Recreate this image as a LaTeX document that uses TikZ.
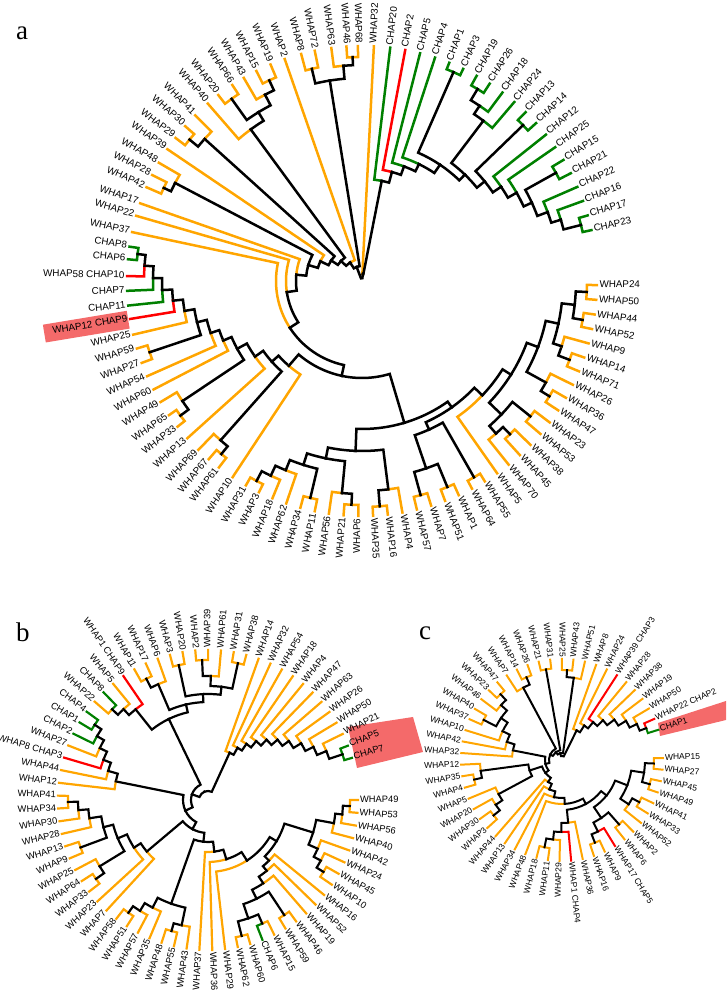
\documentclass[tikz,border=0pt]{standalone}
\usepackage{fontspec}
\newfontfamily\labf{Liberation Sans}
\newfontfamily\panf{Liberation Serif}
\definecolor{cOr}{RGB}{255,165,0}
\definecolor{cGr}{RGB}{0,128,0}
\definecolor{cRd}{RGB}{255,0,0}
\definecolor{cBk}{RGB}{0,0,0}
\definecolor{cHl}{RGB}{244,106,106}
\newcommand\TipR{237}
\newcommand\LabGap{2}
\newcommand\Lf[4]{%
  \expandafter\xdef\csname TA:#1\endcsname{#2}%
  \expandafter\xdef\csname TR:#1\endcsname{\TipR}%
  \expandafter\xdef\csname TC:#1\endcsname{#3}%
  \pgfmathsetmacro\lfang{mod(#2+360,360)}%
  \pgfmathsetmacro\lfrad{\TipR+\LabGap}%
  \ifdim\lfang pt>90pt\relax
    \ifdim\lfang pt<270pt\relax
      \node[lab,anchor=mid east,rotate=\lfang-180] (#1) at (\lfang:\lfrad) {#4};%
    \else
      \node[lab,anchor=mid west,rotate=\lfang] (#1) at (\lfang:\lfrad) {#4};%
    \fi
  \else
    \node[lab,anchor=mid west,rotate=\lfang] (#1) at (\lfang:\lfrad) {#4};%
  \fi
}
\newcommand\Br[2]{%
  \edef\bpA{\csname TA:#1\endcsname}%
  \edef\bpR{\csname TR:#1\endcsname}%
  \edef\bcA{\csname TA:#2\endcsname}%
  \edef\bcR{\csname TR:#2\endcsname}%
  \edef\bcC{\csname TC:#2\endcsname}%
  \draw[br,draw=\bcC] (\bpA:\bpR) arc[start angle=\bpA,end angle=\bcA,radius=\bpR pt] -- (\bcA:\bcR);%
}
\newcommand\Nd[4]{%
  \pgfmathsetmacro\ndang{(\csname TA:#2\endcsname+\csname TA:#3\endcsname)/2}%
  \expandafter\xdef\csname TA:#1\endcsname{\ndang}%
  \expandafter\xdef\csname TR:#1\endcsname{#4}%
  \expandafter\xdef\csname TC:#1\endcsname{cBk}%
  \Br{#1}{#2}\Br{#1}{#3}%
}
\begin{document}
\begin{tikzpicture}[x=1pt,y=1pt]
\useasboundingbox (0,0) rectangle (726,992);
% highlight boxes
\begin{scope}[shift={(362,711)},rotate=189.4]
\fill[cHl] (237,-9) rectangle (322,9);
\end{scope}
\fill[cHl] (348,265) -- (413,275) -- (423,240) -- (357,224) -- cycle;
\fill[cHl] (658,269) -- (726,291) -- (726,272) -- (660,256) -- cycle;
% panel letters
\node[font=\panf\fontsize{27}{27}\selectfont] (pa) at (22,959) {a};
\node[font=\panf\fontsize{27}{27}\selectfont] (pb) at (23,360) {b};
\node[font=\panf\fontsize{27}{27}\selectfont] (pc) at (425,359) {c};
%%%%%%%%%%%%%%%% TREE A
\begin{scope}[shift={(362,711)},lab/.style={font=\labf\fontsize{9.8}{11}\selectfont,inner sep=0pt},br/.style={line width=2.5pt,line cap=rect}]
\renewcommand\TipR{235}\renewcommand\LabGap{2.5}
\Lf{aC20}{83.1}{cGr}{CHAP20}
\Lf{aC2}{79.4}{cRd}{CHAP2}
\Lf{aC5}{75.7}{cGr}{CHAP5}
\Lf{aC4}{71.9}{cGr}{CHAP4}
\Lf{aC1}{68.2}{cGr}{CHAP1}
\Lf{aC3}{64.5}{cGr}{CHAP3}
\Lf{aC19}{60.8}{cGr}{CHAP19}
\Lf{aC26}{57.1}{cGr}{CHAP26}
\Lf{aC18}{53.3}{cGr}{CHAP18}
\Lf{aC24}{49.6}{cGr}{CHAP24}
\Lf{aC13}{45.9}{cGr}{CHAP13}
\Lf{aC14}{42.2}{cGr}{CHAP14}
\Lf{aC12}{38.5}{cGr}{CHAP12}
\Lf{aC25}{34.7}{cGr}{CHAP25}
\Lf{aC15}{31.0}{cGr}{CHAP15}
\Lf{aC21}{27.3}{cGr}{CHAP21}
\Lf{aC22}{23.6}{cGr}{CHAP22}
\Lf{aC16}{19.9}{cGr}{CHAP16}
\Lf{aC17}{16.2}{cGr}{CHAP17}
\Lf{aC23}{12.5}{cGr}{CHAP23}
\Lf{aW32}{87.1}{cOr}{WHAP32}
\Lf{aW68}{91.0}{cOr}{WHAP68}
\Lf{aW46}{93.8}{cOr}{WHAP46}
\Lf{aW63}{97.5}{cOr}{WHAP63}
\Lf{aW72}{101.6}{cOr}{WHAP72}
\Lf{aW8}{105.0}{cOr}{WHAP8}
\Lf{aW2}{109.2}{cOr}{WHAP2}
\Lf{aW19}{112.9}{cOr}{WHAP19}
\Lf{aW15}{116.7}{cOr}{WHAP15}
\Lf{aW43}{120.2}{cOr}{WHAP43}
\Lf{aW66}{123.5}{cOr}{WHAP66}
\Lf{aW20}{127.7}{cOr}{WHAP20}
\Lf{aW40}{131.0}{cOr}{WHAP40}
\Lf{aW41}{135.2}{cOr}{WHAP41}
\Lf{aW30}{138.8}{cOr}{WHAP30}
\Lf{aW29}{142.5}{cOr}{WHAP29}
\Lf{aW39}{145.9}{cOr}{WHAP39}
\Lf{aW48}{149.8}{cOr}{WHAP48}
\Lf{aW28}{153.2}{cOr}{WHAP28}
\Lf{aW42}{156.5}{cOr}{WHAP42}
\Lf{aW17}{160.7}{cOr}{WHAP17}
\Lf{aW22}{163.9}{cOr}{WHAP22}
\Lf{aW37}{168.0}{cOr}{WHAP37}
\Lf{aC8}{171.6}{cGr}{CHAP8}
\Lf{aC6}{174.7}{cGr}{CHAP6}
\Lf{aC10}{178.8}{cRd}{WHAP58 CHAP10}
\Lf{aC7}{182.4}{cGr}{CHAP7}
\Lf{aC11}{186.0}{cGr}{CHAP11}
\Lf{aC9}{189.3}{cRd}{WHAP12 CHAP9}
\Lf{aW25}{193.2}{cOr}{WHAP25}
\Lf{aW59}{196.7}{cOr}{WHAP59}
\Lf{aW27}{200.4}{cOr}{WHAP27}
\Lf{aW54}{203.9}{cOr}{WHAP54}
\Lf{aW60}{207.5}{cOr}{WHAP60}
\Lf{aW49}{211.0}{cOr}{WHAP49}
\Lf{aW65}{214.8}{cOr}{WHAP65}
\Lf{aW33}{218.3}{cOr}{WHAP33}
\Lf{aW13}{222.0}{cOr}{WHAP13}
\Lf{aW69}{225.9}{cOr}{WHAP69}
\Lf{aW67}{229.3}{cOr}{WHAP67}
\Lf{aW61}{232.5}{cOr}{WHAP61}
\Lf{aW10}{236.6}{cOr}{WHAP10}
\Lf{aW31}{240.4}{cOr}{WHAP31}
\Lf{aW3}{244.0}{cOr}{WHAP3}
\Lf{aW18}{247.6}{cOr}{WHAP18}
\Lf{aW62}{251.2}{cOr}{WHAP62}
\Lf{aW34}{254.8}{cOr}{WHAP34}
\Lf{aW11}{258.4}{cOr}{WHAP11}
\Lf{aW56}{261.9}{cOr}{WHAP56}
\Lf{aW21}{265.5}{cOr}{WHAP21}
\Lf{aW6}{269.1}{cOr}{WHAP6}
\Lf{aW35}{272.7}{cOr}{WHAP35}
\Lf{aW16}{276.3}{cOr}{WHAP16}
\Lf{aW4}{279.9}{cOr}{WHAP4}
\Lf{aW57}{283.5}{cOr}{WHAP57}
\Lf{aW7}{287.1}{cOr}{WHAP7}
\Lf{aW51}{290.7}{cOr}{WHAP51}
\Lf{aW1}{294.3}{cOr}{WHAP1}
\Lf{aW64}{297.9}{cOr}{WHAP64}
\Lf{aW55}{301.5}{cOr}{WHAP55}
\Lf{aW5}{305.1}{cOr}{WHAP5}
\Lf{aW70}{308.6}{cOr}{WHAP70}
\Lf{aW45}{312.2}{cOr}{WHAP45}
\Lf{aW38}{315.8}{cOr}{WHAP38}
\Lf{aW53}{319.4}{cOr}{WHAP53}
\Lf{aW23}{323.0}{cOr}{WHAP23}
\Lf{aW47}{326.6}{cOr}{WHAP47}
\Lf{aW36}{330.2}{cOr}{WHAP36}
\Lf{aW26}{333.8}{cOr}{WHAP26}
\Lf{aW71}{337.4}{cOr}{WHAP71}
\Lf{aW14}{341.0}{cOr}{WHAP14}
\Lf{aW9}{344.6}{cOr}{WHAP9}
\Lf{aW52}{348.2}{cOr}{WHAP52}
\Lf{aW44}{351.8}{cOr}{WHAP44}
\Lf{aW50}{355.4}{cOr}{WHAP50}
\Lf{aW24}{359.0}{cOr}{WHAP24}
% CHAP clade
\Nd{aN1723}{aC23}{aC17}{226}
\Nd{aNC12}{aC16}{aN1723}{208}
\Nd{aNC11}{aC22}{aNC12}{198}
\Nd{aN1521}{aC21}{aC15}{222}
\Nd{aNC10}{aN1521}{aNC11}{187}
\Nd{aNC9}{aC25}{aNC10}{178}
\Nd{aNC8}{aC12}{aNC9}{168}
\Nd{aN1314}{aC14}{aC13}{224}
\Nd{aNC7}{aN1314}{aNC8}{158}
\Nd{aN1926}{aC26}{aC19}{224}
\Nd{aN18}{aC18}{aN1926}{211}
\Nd{aN24}{aC24}{aN18}{201}
\Nd{aNC6}{aN24}{aNC7}{148}
\Nd{aN13}{aC3}{aC1}{228}
\Nd{aNC5}{aN13}{aNC6}{140}
\Nd{aNC4}{aC4}{aNC5}{130}
\Nd{aNC3}{aC5}{aNC4}{122}
\Nd{aNC2}{aC2}{aNC3}{113}
\Nd{aNC1}{aC20}{aNC2}{102}
% top-left
\Nd{ah1}{aW46}{aW68}{224}
\Nd{ah2}{aW63}{ah1}{216}
\Nd{ah3}{aW8}{aW72}{218}
\Nd{ah4}{ah3}{ah2}{203}
\Nd{ai1}{aW15}{aW19}{221}
\Nd{ai2}{aW43}{ai1}{210}
\Nd{aj1}{aW20}{aW66}{224}
\Nd{ai3}{aj1}{ai2}{198}
\Nd{ai4}{aW40}{ai3}{188}
\Nd{ak1}{aW29}{aW30}{223}
\Nd{ak2}{ak1}{aW41}{212}
\Nd{am1}{aW28}{aW42}{219}
\Nd{am2}{aW48}{am1}{211}
% left-lower
\Nd{al1}{aC8}{aC6}{226}
\Nd{al2}{al1}{aC10}{218}
\Nd{al3}{al2}{aC7}{209}
\Nd{al4}{al3}{aC11}{200}
\Nd{al5}{al4}{aC9}{190}
\Nd{al6}{al5}{aW25}{180}
\Nd{af1}{aW59}{aW27}{224}
\Nd{al7}{al6}{af1}{170}
\Nd{al8}{al7}{aW54}{160}
\Nd{al9}{al8}{aW60}{151}
\Nd{ae1}{aW65}{aW33}{226}
\Nd{ae2}{aW49}{ae1}{216}
\Nd{al10}{al9}{ae2}{142}
\Nd{al11}{al10}{aW13}{131}
\Nd{ad1}{aW67}{aW61}{223}
\Nd{ad2}{aW69}{ad1}{213}
\Nd{al12}{al11}{ad2}{121}
\Nd{al13}{al12}{aW10}{112}
% bottom
\Nd{ab1}{aW31}{aW3}{226}
\Nd{ab2}{ab1}{aW18}{215}
\Nd{ab3}{ab2}{aW62}{204}
\Nd{ab4}{aW34}{aW11}{223}
\Nd{ab5}{ab3}{ab4}{193}
\Nd{ab6}{aW21}{aW6}{224}
\Nd{ab7}{aW56}{ab6}{213}
\Nd{ab8}{ab5}{ab7}{181}
\Nd{ab9}{aW35}{aW16}{226}
\Nd{ab10}{ab9}{aW4}{210}
\Nd{ab11}{ab8}{ab10}{170}
\Nd{ac1}{aW57}{aW7}{222}
\Nd{ac2}{aW51}{aW1}{223}
\Nd{ac12}{ac1}{ac2}{198}
\Nd{ac3}{aW64}{aW55}{226}
\Nd{ac123}{ac12}{ac3}{163}
% right
\Nd{aG1}{aW50}{aW24}{225}
\Nd{aG2}{aW52}{aW44}{224}
\Nd{aG12}{aG2}{aG1}{214}
\Nd{aG3}{aW71}{aW14}{222}
\Nd{aG4}{aG3}{aW9}{210}
\Nd{aG1234}{aG4}{aG12}{201}
\Nd{aG5}{aW47}{aW36}{220}
\Nd{aG6}{aG5}{aW26}{210}
\Nd{aG7}{aG6}{aG1234}{188}
\Nd{aG8}{aW53}{aW23}{216}
\Nd{aG9}{aW45}{aW38}{213}
\Nd{aG10}{aW70}{aG9}{203}
\Nd{aG11}{aG10}{aG8}{193}
\Nd{aG13}{aG11}{aG7}{176}
\Nd{aRC}{aW5}{aG13}{166}
\Nd{aBR}{ac123}{aRC}{155}
\Nd{aB1}{ab11}{aBR}{148}
% spine
\Nd{aS9}{al13}{aB1}{97}
\Nd{aS8}{aW37}{aS9}{86}
\Nd{aS7}{aW22}{aS8}{76}
\Nd{aS6}{aW17}{aS7}{66}
\Nd{aS5}{am2}{aS6}{56}
\Nd{aS4}{aW39}{aS5}{46}
\Nd{aS3}{ak2}{aS4}{37}
\Nd{aS2}{ai4}{aS3}{29}
\Nd{aS1}{aW2}{aS2}{22}
\Nd{aS0}{ah4}{aS1}{15}
\Nd{aX}{aW32}{aNC1}{7}
\Nd{aRoot}{aX}{aS0}{3}
\end{scope}
%%%%%%%%%%%%%%%% TREE B
\begin{scope}[shift={(208,192)},lab/.style={font=\labf\fontsize{9.3}{11}\selectfont,inner sep=0pt},br/.style={line width=2.2pt,line cap=rect}]
\renewcommand\TipR{150}\renewcommand\LabGap{2}
\Lf{bC7}{16.30}{cGr}{CHAP7}
\Lf{bC5}{21.21}{cGr}{CHAP5}
\Lf{bW21}{26.12}{cOr}{WHAP21}
\Lf{bW50}{31.03}{cOr}{WHAP50}
\Lf{bW26}{35.94}{cOr}{WHAP26}
\Lf{bW63}{40.85}{cOr}{WHAP63}
\Lf{bW47}{45.76}{cOr}{WHAP47}
\Lf{bW4}{50.67}{cOr}{WHAP4}
\Lf{bW18}{55.58}{cOr}{WHAP18}
\Lf{bW54}{60.49}{cOr}{WHAP54}
\Lf{bW32}{65.40}{cOr}{WHAP32}
\Lf{bW14}{70.31}{cOr}{WHAP14}
\Lf{bW38}{75.22}{cOr}{WHAP38}
\Lf{bW31}{80.13}{cOr}{WHAP31}
\Lf{bW61}{85.04}{cOr}{WHAP61}
\Lf{bW39}{89.95}{cOr}{WHAP39}
\Lf{bW2}{94.86}{cOr}{WHAP2}
\Lf{bW20}{99.77}{cOr}{WHAP20}
\Lf{bW3}{104.68}{cOr}{WHAP3}
\Lf{bW6}{109.59}{cOr}{WHAP6}
\Lf{bW17}{114.50}{cOr}{WHAP17}
\Lf{bW11}{119.41}{cOr}{WHAP11}
\Lf{bC9}{124.32}{cRd}{WHAP1 CHAP9}
\Lf{bW5}{129.23}{cOr}{WHAP5}
\Lf{bC8}{134.14}{cGr}{CHAP8}
\Lf{bW22}{139.05}{cOr}{WHAP22}
\Lf{bC4}{143.96}{cGr}{CHAP4}
\Lf{bC1}{148.87}{cGr}{CHAP1}
\Lf{bC2}{153.78}{cGr}{CHAP2}
\Lf{bW27}{158.69}{cOr}{WHAP27}
\Lf{bC3}{163.60}{cRd}{WHAP8 CHAP3}
\Lf{bW44}{168.51}{cOr}{WHAP44}
\Lf{bW12}{173.42}{cOr}{WHAP12}
\Lf{bW41}{178.33}{cOr}{WHAP41}
\Lf{bW34}{183.24}{cOr}{WHAP34}
\Lf{bW30}{188.15}{cOr}{WHAP30}
\Lf{bW28}{193.06}{cOr}{WHAP28}
\Lf{bW13}{197.97}{cOr}{WHAP13}
\Lf{bW9}{202.88}{cOr}{WHAP9}
\Lf{bW25}{207.79}{cOr}{WHAP25}
\Lf{bW64}{212.70}{cOr}{WHAP64}
\Lf{bW33}{217.61}{cOr}{WHAP33}
\Lf{bW23}{222.52}{cOr}{WHAP23}
\Lf{bW7}{227.43}{cOr}{WHAP7}
\Lf{bW58}{232.34}{cOr}{WHAP58}
\Lf{bW51}{237.25}{cOr}{WHAP51}
\Lf{bW57}{242.16}{cOr}{WHAP57}
\Lf{bW35}{247.07}{cOr}{WHAP35}
\Lf{bW48}{251.98}{cOr}{WHAP48}
\Lf{bW55}{256.89}{cOr}{WHAP55}
\Lf{bW43}{261.80}{cOr}{WHAP43}
\Lf{bW37}{266.71}{cOr}{WHAP37}
\Lf{bW36}{271.62}{cOr}{WHAP36}
\Lf{bW29}{276.53}{cOr}{WHAP29}
\Lf{bW62}{281.44}{cOr}{WHAP62}
\Lf{bW60}{286.35}{cOr}{WHAP60}
\Lf{bC6}{291.26}{cGr}{CHAP6}
\Lf{bW15}{296.17}{cOr}{WHAP15}
\Lf{bW59}{301.08}{cOr}{WHAP59}
\Lf{bW46}{305.99}{cOr}{WHAP46}
\Lf{bW19}{310.90}{cOr}{WHAP19}
\Lf{bW52}{315.81}{cOr}{WHAP52}
\Lf{bW16}{320.72}{cOr}{WHAP16}
\Lf{bW10}{325.63}{cOr}{WHAP10}
\Lf{bW45}{330.54}{cOr}{WHAP45}
\Lf{bW24}{335.45}{cOr}{WHAP24}
\Lf{bW42}{340.36}{cOr}{WHAP42}
\Lf{bW40}{345.27}{cOr}{WHAP40}
\Lf{bW56}{350.18}{cOr}{WHAP56}
\Lf{bW53}{355.09}{cOr}{WHAP53}
\Lf{bW49}{360.00}{cOr}{WHAP49}
\Nd{bU11}{bC5}{bC7}{142}
\Nd{bU10}{bW21}{bU11}{128}
\Nd{bU9}{bW50}{bU10}{118}
\Nd{bU8}{bW26}{bU9}{109}
\Nd{bU7}{bW63}{bU8}{100}
\Nd{bU6}{bW47}{bU7}{92}
\Nd{bU5}{bW4}{bU6}{84}
\Nd{bU4}{bW18}{bU5}{76}
\Nd{bU3}{bW54}{bU4}{68}
\Nd{bU2}{bW32}{bU3}{60}
\Nd{bU1}{bW14}{bU2}{52}
\Nd{bV1}{bW39}{bW2}{140}
\Nd{bV2}{bV1}{bW61}{124}
\Nd{bV3}{bW31}{bW38}{140}
\Nd{bV4}{bV2}{bV3}{114}
\Nd{bV5}{bW3}{bW20}{138}
\Nd{bV6}{bV5}{bV4}{106}
\Nd{bV7}{bW17}{bW11}{136}
\Nd{bV8}{bV7}{bW6}{126}
\Nd{bV9}{bV8}{bV6}{98}
\Nd{bw1}{bW22}{bC8}{132}
\Nd{bw2}{bw1}{bW5}{124}
\Nd{bw3}{bw2}{bC9}{116}
\Nd{bV10}{bw3}{bV9}{90}
\Nd{bx1}{bC4}{bC1}{136}
\Nd{bx2}{bx1}{bC2}{128}
\Nd{bx3}{bx2}{bW27}{120}
\Nd{bx4}{bx3}{bC3}{112}
\Nd{bx5}{bx4}{bW44}{104}
\Nd{bx6}{bx5}{bW12}{94}
\Nd{by1}{bW41}{bW34}{140}
\Nd{by2}{by1}{bW30}{130}
\Nd{by3}{by2}{bW28}{120}
\Nd{by4}{bW13}{bW9}{136}
\Nd{by5}{by3}{by4}{108}
\Nd{by6}{bW64}{bW33}{137}
\Nd{by7}{bW25}{by6}{127}
\Nd{by8}{by5}{by7}{98}
\Nd{by9}{by8}{bW23}{88}
\Nd{by10}{by9}{bW7}{80}
\Nd{bz1}{bW58}{bW51}{138}
\Nd{bz2}{bz1}{bW57}{130}
\Nd{bz3}{bz2}{bW35}{121}
\Nd{bz4}{bW48}{bW55}{136}
\Nd{bz5}{bz4}{bW43}{128}
\Nd{bz6}{bz3}{bz5}{110}
\Nd{bq1}{bW62}{bW60}{140}
\Nd{bq2}{bC6}{bW15}{135}
\Nd{bq3}{bq1}{bq2}{125}
\Nd{bq4}{bW59}{bW46}{138}
\Nd{bq5}{bq3}{bq4}{110}
\Nd{bq6}{bq5}{bW19}{100}
\Nd{bq7}{bq6}{bW52}{92}
\Nd{bq8}{bq7}{bW16}{86}
\Nd{bp1}{bW10}{bW45}{136}
\Nd{bp2}{bp1}{bW24}{128}
\Nd{bp3}{bp2}{bW42}{120}
\Nd{bp4}{bW53}{bW49}{142}
\Nd{bp5}{bW56}{bp4}{135}
\Nd{bp6}{bW40}{bp5}{128}
\Nd{bp7}{bp3}{bp6}{110}
\Nd{bpq}{bq8}{bp7}{80}
\Nd{bS8}{bW29}{bpq}{72}
\Nd{bS7}{bW36}{bS8}{62}
\Nd{bS6}{bW37}{bS7}{52}
\Nd{bS5}{bz6}{bS6}{42}
\Nd{bS4}{by10}{bS5}{33}
\Nd{bS3}{bx6}{bS4}{25}
\Nd{bS2}{bV10}{bS3}{17}
\Nd{bS1}{bU1}{bS2}{9}
\end{scope}
%%%%%%%%%%%%%%%% TREE C
\begin{scope}[shift={(562,232)},lab/.style={font=\labf\fontsize{8.5}{10}\selectfont,inner sep=0pt},br/.style={line width=2pt,line cap=rect}]
\renewcommand\TipR{101}\renewcommand\LabGap{1.8}
\Lf{cC1}{17.40}{cGr}{CHAP1}
\Lf{cC2}{24.01}{cRd}{WHAP22 CHAP2}
\Lf{cW50}{30.62}{cOr}{WHAP50}
\Lf{cW19}{37.23}{cOr}{WHAP19}
\Lf{cW38}{43.84}{cOr}{WHAP38}
\Lf{cW28}{50.45}{cOr}{WHAP28}
\Lf{cC3}{57.06}{cRd}{WHAP39 CHAP3}
\Lf{cW24}{63.67}{cOr}{WHAP24}
\Lf{cW8}{70.28}{cOr}{WHAP8}
\Lf{cW51}{76.89}{cOr}{WHAP51}
\Lf{cW43}{83.50}{cOr}{WHAP43}
\Lf{cW25}{90.11}{cOr}{WHAP25}
\Lf{cW31}{96.72}{cOr}{WHAP31}
\Lf{cW21}{103.33}{cOr}{WHAP21}
\Lf{cW26}{109.94}{cOr}{WHAP26}
\Lf{cW14}{116.55}{cOr}{WHAP14}
\Lf{cW7}{123.16}{cOr}{WHAP7}
\Lf{cW47}{129.77}{cOr}{WHAP47}
\Lf{cW23}{136.38}{cOr}{WHAP23}
\Lf{cW46}{142.99}{cOr}{WHAP46}
\Lf{cW40}{149.60}{cOr}{WHAP40}
\Lf{cW37}{156.21}{cOr}{WHAP37}
\Lf{cW10}{162.82}{cOr}{WHAP10}
\Lf{cW42}{169.43}{cOr}{WHAP42}
\Lf{cW32}{176.04}{cOr}{WHAP32}
\Lf{cW12}{182.65}{cOr}{WHAP12}
\Lf{cW35}{189.26}{cOr}{WHAP35}
\Lf{cW4}{195.87}{cOr}{WHAP4}
\Lf{cW5}{202.48}{cOr}{WHAP5}
\Lf{cW20}{209.09}{cOr}{WHAP20}
\Lf{cW30}{215.70}{cOr}{WHAP30}
\Lf{cW3}{222.31}{cOr}{WHAP3}
\Lf{cW44}{228.92}{cOr}{WHAP44}
\Lf{cW13}{235.53}{cOr}{WHAP13}
\Lf{cW34}{242.14}{cOr}{WHAP34}
\Lf{cW48}{248.75}{cOr}{WHAP48}
\Lf{cW18}{255.36}{cOr}{WHAP18}
\Lf{cW11}{261.97}{cOr}{WHAP11}
\Lf{cW29}{268.58}{cOr}{WHAP29}
\Lf{cC4}{275.19}{cRd}{WHAP1 CHAP4}
\Lf{cW36}{281.80}{cOr}{WHAP36}
\Lf{cW16}{288.41}{cOr}{WHAP16}
\Lf{cW9}{295.02}{cOr}{WHAP9}
\Lf{cC5}{301.63}{cRd}{WHAP17 CHAP5}
\Lf{cW6}{308.24}{cOr}{WHAP6}
\Lf{cW2}{314.85}{cOr}{WHAP2}
\Lf{cW52}{321.46}{cOr}{WHAP52}
\Lf{cW33}{328.07}{cOr}{WHAP33}
\Lf{cW41}{334.68}{cOr}{WHAP41}
\Lf{cW49}{341.29}{cOr}{WHAP49}
\Lf{cW45}{347.90}{cOr}{WHAP45}
\Lf{cW27}{354.51}{cOr}{WHAP27}
\Lf{cW15}{361.12}{cOr}{WHAP15}
\Nd{cE1}{cC2}{cC1}{90}
\Nd{cE2}{cW50}{cE1}{83}
\Nd{cE3}{cW19}{cE2}{75}
\Nd{cE4}{cW38}{cE3}{66}
\Nd{cE5}{cW28}{cE4}{57}
\Nd{cE6}{cC3}{cE5}{49}
\Nd{cE7}{cW24}{cE6}{41}
\Nd{cE8}{cW8}{cE7}{33}
\Nd{cF1}{cW43}{cW25}{90}
\Nd{cF2}{cW51}{cF1}{83}
\Nd{cF3}{cW31}{cW21}{92}
\Nd{cF4}{cW26}{cW14}{90}
\Nd{cF5}{cF4}{cW7}{82}
\Nd{cG1}{cW47}{cW23}{90}
\Nd{cG2}{cG1}{cW46}{82}
\Nd{cG3}{cW40}{cW37}{88}
\Nd{cG4}{cG2}{cG3}{74}
\Nd{cG5}{cG4}{cW10}{66}
\Nd{cG6}{cG5}{cW42}{58}
\Nd{cG7}{cG6}{cW32}{50}
\Nd{cH1}{cW35}{cW4}{90}
\Nd{cH2}{cW12}{cH1}{82}
\Nd{cH3}{cW30}{cW3}{88}
\Nd{cH4}{cW20}{cH3}{80}
\Nd{cH5}{cW5}{cH4}{72}
\Nd{cH6}{cH2}{cH5}{34}
\Nd{cI1}{cW18}{cW11}{89}
\Nd{cI2}{cI1}{cW29}{80}
\Nd{cI3}{cI2}{cC4}{72}
\Nd{cI4}{cI3}{cW36}{63}
\Nd{cJ1}{cW16}{cW9}{89}
\Nd{cJ2}{cJ1}{cC5}{80}
\Nd{cJ3}{cW6}{cW2}{86}
\Nd{cJ4}{cJ2}{cJ3}{70}
\Nd{cK1}{cW27}{cW15}{92}
\Nd{cK2}{cW49}{cW45}{91}
\Nd{cK3}{cK2}{cK1}{83}
\Nd{cK4}{cW33}{cW41}{88}
\Nd{cK5}{cW52}{cK4}{80}
\Nd{cK6}{cK5}{cK3}{70}
\Nd{cL1}{cJ4}{cK6}{57}
\Nd{cS11}{cI4}{cL1}{50}
\Nd{cS10}{cW48}{cS11}{44}
\Nd{cS9}{cW34}{cS10}{38}
\Nd{cS8}{cW13}{cS9}{32}
\Nd{cS7}{cW44}{cS8}{26}
\Nd{cS6}{cH6}{cS7}{21}
\Nd{cS5}{cG7}{cS6}{17}
\Nd{cS4}{cF5}{cS5}{13}
\Nd{cS3}{cF3}{cS4}{10}
\Nd{cS2}{cF2}{cS3}{7}
\Nd{cS1}{cE8}{cS2}{4}
\end{scope}
\end{tikzpicture}
\end{document}
